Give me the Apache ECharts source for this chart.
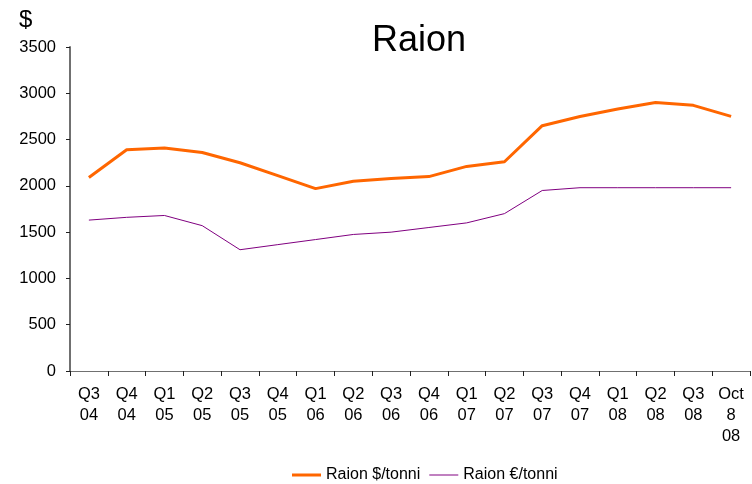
<!DOCTYPE html>
<html>
<head>
<meta charset="utf-8">
<script src="https://cdn.jsdelivr.net/npm/echarts@6/dist/echarts.min.js"></script>
<style>
  html, body { margin: 0; padding: 0; background: #fff; }
  #chart { width: 752px; height: 484px; }
</style>
</head>
<body>
<div id="chart"></div>
<script>
// Quarterly rayon prices, Q3 2004 – October 2008
const categories = [
  'Q3\n04', 'Q4\n04', 'Q1\n05', 'Q2\n05', 'Q3\n05', 'Q4\n05',
  'Q1\n06', 'Q2\n06', 'Q3\n06', 'Q4\n06', 'Q1\n07', 'Q2\n07',
  'Q3\n07', 'Q4\n07', 'Q1\n08', 'Q2\n08', 'Q3\n08', 'Oct\n8\n08'
];
const usdPerTonne = [2090, 2390, 2410, 2360, 2250, 2110, 1970, 2050, 2080, 2100, 2210, 2260, 2650, 2750, 2830, 2900, 2870, 2750];
const eurPerTonne = [1630, 1660, 1680, 1570, 1310, 1365, 1420, 1475, 1500, 1550, 1600, 1700, 1950, 1980, 1980, 1980, 1980, 1980];
const yTicks = { min: 0, max: 3500, interval: 500 };

const font = 'Liberation Sans, Arial, sans-serif';
const chart = echarts.init(document.getElementById('chart'), null, { renderer: 'canvas' });

chart.setOption({
  animation: false,
  backgroundColor: '#ffffff',
  textStyle: { fontFamily: font },
  title: [
    {
      text: 'Raion',
      left: 414, top: 18,
      textAlign: 'center',
      textStyle: { fontFamily: font, fontSize: 36, fontWeight: 'normal', color: '#000' }
    },
    {
      text: '$',
      left: 14, top: 3,
      textStyle: { fontFamily: font, fontSize: 24, fontWeight: 'normal', color: '#000' }
    }
  ],
  grid: { left: 70, right: 2, top: 47, bottom: 113, containLabel: false },
  legend: {
    top: 467,
    left: 292,
    padding: 0,
    itemWidth: 29,
    itemHeight: 3,
    itemGap: 9,
    textStyle: { fontFamily: font, fontSize: 16, color: '#000' },
    data: [
      { name: 'Raion $/tonni', icon: 'path://M0,0H29V3H0Z' },
      { name: 'Raion €/tonni', icon: 'path://M0,0H29V1H0Z' }
    ]
  },
  xAxis: {
    type: 'category',
    data: categories,
    boundaryGap: true,
    axisLine: { lineStyle: { color: '#707070', width: 1 } },
    axisTick: { show: true, length: 5, lineStyle: { color: '#202020' } },
    axisLabel: {
      interval: 0,
      margin: 13,
      fontFamily: font,
      fontSize: 16.5,
      lineHeight: 21,
      color: '#000'
    },
    splitLine: { show: false }
  },
  yAxis: {
    type: 'value',
    min: yTicks.min,
    max: yTicks.max,
    interval: yTicks.interval,
    axisLine: { show: true, lineStyle: { color: '#707070', width: 2 } },
    axisTick: { show: true, length: 4, lineStyle: { color: '#202020' } },
    axisLabel: {
      margin: 14,
      fontFamily: font,
      fontSize: 16.5,
      color: '#000',
      formatter: (v) => String(v)
    },
    splitLine: { show: false }
  },
  series: [
    {
      name: 'Raion $/tonni',
      type: 'line',
      data: usdPerTonne,
      symbol: 'none',
      color: '#FF6600',
      lineStyle: { color: '#FF6600', width: 3 }
    },
    {
      name: 'Raion €/tonni',
      type: 'line',
      data: eurPerTonne,
      symbol: 'none',
      color: '#800080',
      lineStyle: { color: '#800080', width: 1 }
    }
  ]
});
</script>
</body>
</html>
